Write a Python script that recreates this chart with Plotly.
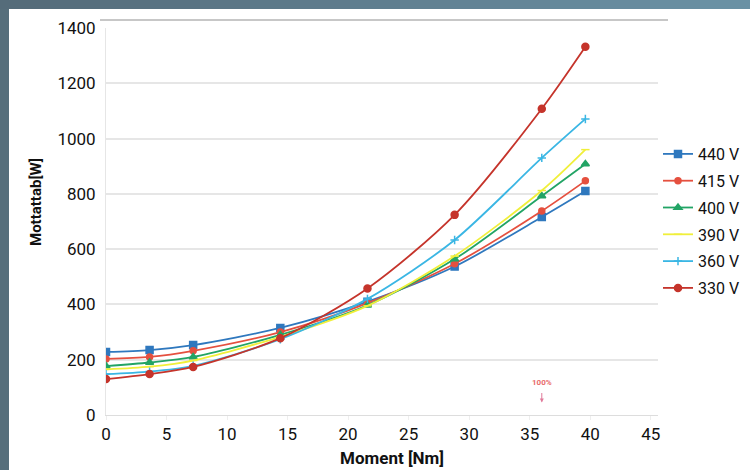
import plotly.graph_objects as go

moment = [0, 3.6, 7.2, 14.4, 21.6, 28.8, 36, 39.6]
series_names = ["440 V", "415 V", "400 V", "390 V", "360 V", "330 V"]
v440 = [228, 235, 253, 315, 410, 537, 716, 810]
v415 = [203, 210, 232, 300, 405, 547, 738, 847]
v400 = [177, 190, 210, 290, 397, 564, 792, 908]
v390 = [165, 175, 197, 283, 395, 575, 812, 960]
v360 = [148, 157, 178, 274, 420, 633, 930, 1071]
v330 = [130, 148, 174, 278, 458, 724, 1108, 1332]

colors = ["#2f78be", "#e5503f", "#22a465", "#f0ef3a", "#3ab6e4", "#c5342b"]
symbols = ["square", "circle", "triangle-up", "line-ew", "cross-thin", "circle"]
msizes = [7, 6, 7, 6, 6, 7]
values = [v440, v415, v400, v390, v360, v330]

fig = go.Figure()
for name, vals, c, s, ms in zip(series_names, values, colors, symbols, msizes):
    fig.add_trace(go.Scatter(
        x=moment, y=vals, name=name, mode="lines+markers", legendgroup=name,
        line=dict(color=c, width=1.8, shape="spline", smoothing=0.8),
        marker=dict(symbol=s, size=ms, color=c, line=dict(color=c, width=1.5)),
    ))

L, R, T, B = 106, 92, 28, 55
W, H = 750, 470
pw, ph = W - L - R, H - T - B

def px(x):
    return (x - L) / pw

def py(y):
    return (H - B - y) / ph

shapes = []
shapes.append(dict(type="rect", xref="paper", yref="paper", x0=px(0), x1=px(9),
                   y0=py(H), y1=py(0), fillcolor="#566e7b", line=dict(width=0), layer="below"))
n = 15
c0 = (0x55, 0x6c, 0x7a)
c1 = (0x6a, 0x91, 0xa4)
for i in range(n):
    t = i / (n - 1)
    col = "rgb(%d,%d,%d)" % tuple(int(a + (b - a) * t) for a, b in zip(c0, c1))
    shapes.append(dict(type="rect", xref="paper", yref="paper",
                       x0=px(W * i / n), x1=px(W * (i + 1) / n + 1),
                       y0=py(9), y1=py(0), fillcolor=col, line=dict(width=0), layer="below"))
shapes.append(dict(type="line", xref="paper", yref="paper", x0=px(100), x1=px(668),
                   y0=py(20), y1=py(20), line=dict(color="#b4b4b4", width=1.5)))

fig.update_layout(
    width=W, height=H,
    margin=dict(l=L, r=R, t=T, b=B, autoexpand=False),
    paper_bgcolor="white", plot_bgcolor="white",
    font=dict(family="Roboto", color="#111111"),
    shapes=shapes,
    showlegend=True,
    legend=dict(x=px(658), y=py(137), xanchor="left", yanchor="top",
                font=dict(size=16, family="Roboto", color="#111111"),
                itemwidth=30, tracegroupgap=3, bgcolor="rgba(0,0,0,0)"),
    xaxis=dict(range=[0, 45.6], tickvals=[0, 5, 10, 15, 20, 25, 30, 35, 40, 45],
               showgrid=False, zeroline=False, showline=True, linecolor="#dddddd",
               ticks="outside", ticklen=4, tickcolor="#eeeeee",
               tickfont=dict(size=17, color="#111111")),
    yaxis=dict(range=[0, 1400], tickvals=[0, 200, 400, 600, 800, 1000, 1200, 1400],
               showgrid=True, gridcolor="#e6e6e6", gridwidth=1.5, zeroline=False,
               showline=True, linecolor="#e6e6e6",
               tickfont=dict(size=17, color="#111111"),
               ticks="outside", ticklen=6, tickcolor="rgba(0,0,0,0)"),
    annotations=[
        dict(x=px(36), y=py(202), xref="paper", yref="paper", text="<b>Mottattab[W]</b>",
             textangle=-90, showarrow=False, font=dict(size=15, color="#111111"),
             xanchor="center", yanchor="middle"),
        dict(x=px(392), y=py(458), xref="paper", yref="paper", text="<b>Moment [Nm]</b>",
             showarrow=False, font=dict(size=17, color="#111111"),
             xanchor="center", yanchor="middle"),
        dict(x=36, y=118, xref="x", yref="y", text="<b>100%</b>", showarrow=False,
             font=dict(size=8, color="#e86a6a")),
        dict(x=36, y=45, xref="x", yref="y", ax=36, ay=85, axref="x", ayref="y",
             text="", showarrow=True, arrowhead=2, arrowsize=0.8, arrowwidth=1, arrowcolor="#e07a9a"),
    ],
)

fig.write_html("out.html")
